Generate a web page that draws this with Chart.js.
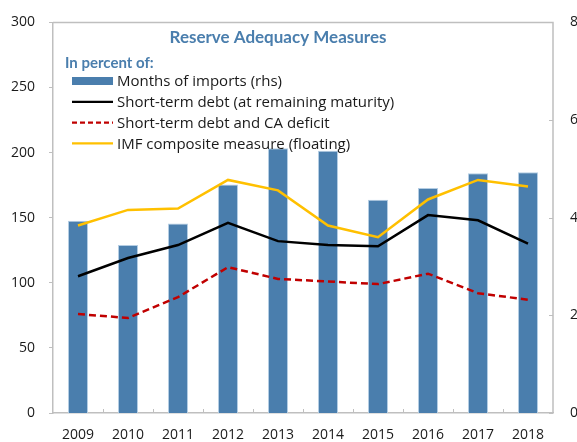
<!DOCTYPE html>
<html lang="en">
<head>
<meta charset="UTF-8" />
<title>Reserve Adequacy Measures</title>
<script src="https://cdn.jsdelivr.net/npm/chart.js@4.4.0/dist/chart.umd.min.js"></script>
<style>
  html, body { margin: 0; padding: 0; background: #fff; overflow: hidden; }
  canvas { display: block; }
</style>
</head>
<body>
<canvas id="chart" width="577" height="442"></canvas>
<script>
// years on the x axis
const years = ['2009', '2010', '2011', '2012', '2013', '2014', '2015', '2016', '2017', '2018'];
// months of imports, right axis
const monthsOfImports = [3.94, 3.44, 3.88, 4.68, 5.42, 5.37, 4.37, 4.61, 4.91, 4.93];
// percent measures, left axis
const shortTermDebt = [105, 119, 129, 146, 132, 129, 128, 152, 148, 130];
const stDebtCaDeficit = [76, 73, 89, 112, 103, 101, 99, 107, 92, 87];
const imfComposite = [144, 156, 157, 179, 171, 144, 135, 164, 179, 174];

const leftTicks = [0, 50, 100, 150, 200, 250, 300];
const rightTicks = [0, 2, 4, 6, 8];

const BLUE = '#4a7ead';
const FRAME = '#bfbfbf';
const TICK_FONT = { family: 'Open Sans', size: 14 };

const legendItems = [
  { label: 'Months of imports (rhs)', type: 'box', color: BLUE },
  { label: 'Short-term debt (at remaining maturity)', type: 'line', color: '#000000' },
  { label: 'Short-term debt and CA deficit', type: 'dash', color: '#c00000' },
  { label: 'IMF composite measure (floating)', type: 'line', color: '#ffc000' },
];

// frame, inner ticks, title and legend all sit inside the plot box
const framePlugin = {
  id: 'frame',
  afterDraw(chart) {
    const ctx = chart.ctx;
    const a = chart.chartArea;
    const x = chart.scales.x;
    const y1 = chart.scales.y1;
    ctx.save();
    ctx.strokeStyle = FRAME;
    ctx.lineWidth = 1.5;
    ctx.beginPath();
    ctx.moveTo(a.left, a.top);
    ctx.lineTo(a.right, a.top);
    ctx.lineTo(a.right, a.bottom);
    ctx.stroke();
    ctx.lineWidth = 1;
    // right axis ticks point inward
    rightTicks.forEach(v => {
      const py = Math.round(y1.getPixelForValue(v)) + 0.5;
      ctx.beginPath();
      ctx.moveTo(a.right - 4, py);
      ctx.lineTo(a.right, py);
      ctx.stroke();
    });
    // category boundary ticks on the bottom axis
    for (let i = 1; i < years.length; i++) {
      const px = Math.round((x.getPixelForValue(i - 1) + x.getPixelForValue(i)) / 2) + 0.5;
      ctx.beginPath();
      ctx.moveTo(px, a.bottom - 4);
      ctx.lineTo(px, a.bottom);
      ctx.stroke();
    }

    // title
    ctx.fillStyle = BLUE;
    ctx.font = 'bold 17px Lato';
    ctx.textAlign = 'center';
    ctx.textBaseline = 'middle';
    ctx.fillText('Reserve Adequacy Measures', 278, 38);

    ctx.textAlign = 'left';
    ctx.font = 'bold 15px Lato';
    ctx.fillText('In percent of:', 65, 63);

    ctx.font = '15px "Open Sans"';
    legendItems.forEach((item, i) => {
      const cy = 81 + i * 20.8;
      if (item.type === 'box') {
        ctx.fillStyle = item.color;
        ctx.fillRect(72, cy - 4, 41, 8);
      } else {
        ctx.strokeStyle = item.color;
        ctx.lineWidth = 2.2;
        ctx.setLineDash(item.type === 'dash' ? [5, 3] : []);
        ctx.beginPath();
        ctx.moveTo(72, cy);
        ctx.lineTo(113, cy);
        ctx.stroke();
        ctx.setLineDash([]);
      }
      ctx.fillStyle = '#1a1a1a';
      ctx.fillText(item.label, 117, cy + 1);
    });
    ctx.restore();
  }
};

const ctx = document.getElementById('chart').getContext('2d');
new Chart(ctx, {
  type: 'bar',
  data: {
    labels: years,
    datasets: [
      {
        label: 'Short-term debt (at remaining maturity)',
        type: 'line',
        data: shortTermDebt,
        yAxisID: 'y',
        borderColor: '#000000',
        borderWidth: 2.5,
        pointRadius: 0,
        tension: 0,
        order: 1,
      },
      {
        label: 'Short-term debt and CA deficit',
        type: 'line',
        data: stDebtCaDeficit,
        yAxisID: 'y',
        borderColor: '#c00000',
        borderWidth: 2.5,
        borderDash: [7, 4],
        pointRadius: 0,
        tension: 0,
        order: 1,
      },
      {
        label: 'IMF composite measure (floating)',
        type: 'line',
        data: imfComposite,
        yAxisID: 'y',
        borderColor: '#ffc000',
        borderWidth: 2.5,
        pointRadius: 0,
        tension: 0,
        order: 1,
      },
      {
        label: 'Months of imports (rhs)',
        data: monthsOfImports,
        yAxisID: 'y1',
        backgroundColor: BLUE,
        borderColor: '#b4cde3',
        borderWidth: 1,
        categoryPercentage: 1,
        barPercentage: 0.4,
        order: 10,
      },
    ],
  },
  options: {
    responsive: false,
    animation: false,
    layout: { padding: { top: 22, left: 0, right: 0, bottom: 0 } },
    plugins: {
      legend: { display: false },
      title: { display: false },
      tooltip: { enabled: false },
    },
    scales: {
      x: {
        grid: { display: false },
        border: { display: true, color: FRAME, width: 1.5 },
        ticks: { color: '#1a1a1a', font: TICK_FONT, padding: 6, maxRotation: 0 },
        afterFit(scale) { scale.height = 29; },
      },
      y: {
        position: 'left',
        min: 0,
        max: 300,
        afterBuildTicks(scale) { scale.ticks = leftTicks.map(v => ({ value: v })); },
        grid: { drawOnChartArea: false, tickLength: 4, color: FRAME },
        border: { display: true, color: FRAME, width: 1.5 },
        ticks: { color: '#1a1a1a', font: TICK_FONT, padding: 14 },
        afterFit(scale) { scale.width = 53; },
      },
      y1: {
        position: 'right',
        min: 0,
        max: 8,
        afterBuildTicks(scale) { scale.ticks = rightTicks.map(v => ({ value: v })); },
        grid: { display: false },
        border: { display: false },
        ticks: { color: '#1a1a1a', font: TICK_FONT, padding: 9 },
        afterFit(scale) { scale.width = 24; },
      },
    },
  },
  plugins: [framePlugin],
});
</script>
</body>
</html>
